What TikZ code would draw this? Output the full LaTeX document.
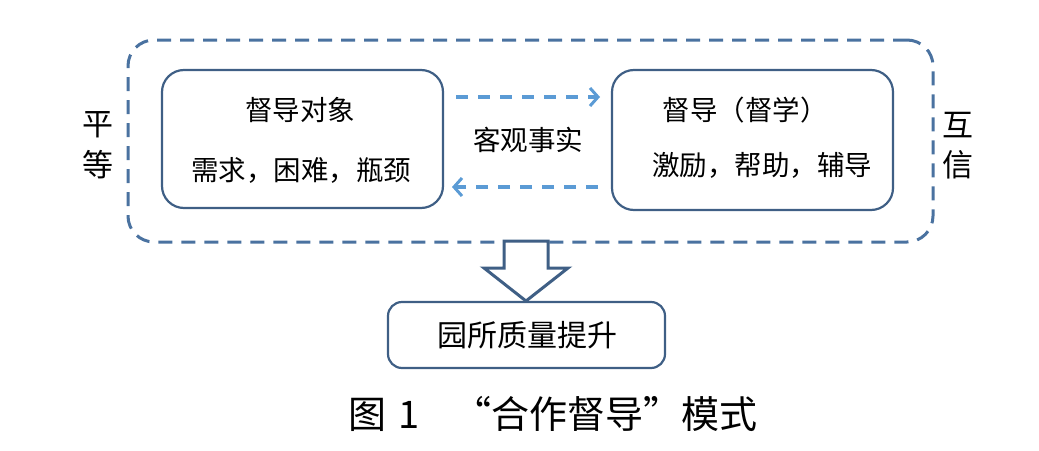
\documentclass[tikz,border=0pt]{standalone}
\usepackage{fontspec}
\setmainfont{Noto Sans CJK SC}
\usetikzlibrary{arrows.meta}
\definecolor{boxc}{HTML}{3F5F85}
\definecolor{outc}{HTML}{4A72A0}
\definecolor{arrc}{HTML}{5B9BD5}
\begin{document}
\begin{tikzpicture}[x=1pt,y=-1pt,
  rbox/.style={draw=boxc,line width=2.2pt,rounded corners=22pt},
  lbl/.style={font=\fontsize{27.5}{30}\selectfont,inner sep=0pt},
  side/.style={font=\fontsize{31}{34}\selectfont,inner sep=0pt},
  darr/.style={draw=arrc,line width=3.2pt,dash pattern=on 12pt off 10pt,-{Straight Barb[length=8pt,width=18pt,line width=3pt]}}]
\useasboundingbox (0,0) rectangle (1039,450);
% outer dashed frame
\node[draw=outc,line width=3pt,dash pattern=on 14pt off 9pt,rounded corners=26pt,minimum width=805pt,minimum height=202pt,inner sep=0pt] (frame) at (530.5,141) {};
% boxes
\node[rbox,minimum width=281pt,minimum height=138pt,inner sep=0pt] (L) at (302.5,139) {};
\node[rbox,minimum width=281pt,minimum height=140pt,inner sep=0pt] (R) at (752.5,140) {};
\node[lbl] (Lt) at (300,110) {督导对象};
\node[lbl] (Lb) at (301,170) {需求，困难，瓶颈};
\node[lbl] (Rt) at (745,110) {督导（督学）};
\node[lbl] (Rb) at (762,165) {激励，帮助，辅导};
\node[lbl] (mid) at (528,140) {客观事实};
% dashed arrows
\coordinate (a1) at (456,97);
\coordinate (a2) at (600,97);
\coordinate (b1) at (598,187);
\coordinate (b2) at (452,187);
\draw[darr] (a1) -- (a2);
\draw[darr] (b1) -- (b2);
% side characters
\node[side] (p1) at (98,125) {平};
\node[side] (p2) at (98,165) {等};
\node[side] (h1) at (958,125) {互};
\node[side] (h2) at (958,165) {信};
% bottom box
\node[rbox,rounded corners=14pt,minimum width=277pt,minimum height=66pt,inner sep=0pt] (Q) at (526.5,335) {};
\node[font=\fontsize{30}{33}\selectfont,inner sep=0pt] (Qt) at (527,335) {园所质量提升};
% block arrow
\draw[draw=boxc,fill=white,line width=3pt,line join=miter]
  (504,241) -- (548,241) -- (548,268) -- (568,268) -- (526,301) -- (484,268) -- (504,268) -- cycle;
% caption
\node[font=\fontsize{38}{42}\selectfont,inner sep=0pt] (cap) at (553,414) {图\hspace{0.3em}1\hspace{0.9em}“合作督导”模式};
\end{tikzpicture}
\end{document}
